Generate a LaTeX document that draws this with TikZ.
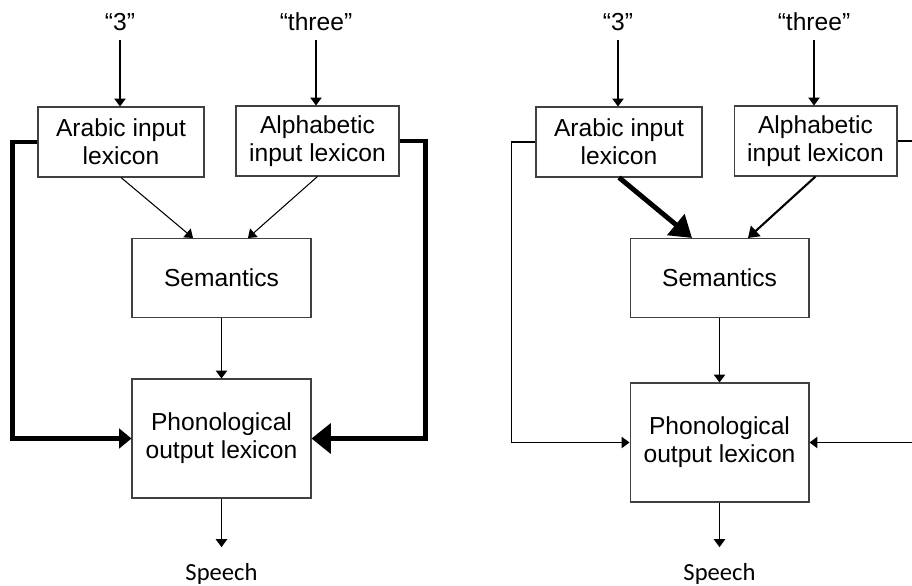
\documentclass[tikz,border=0pt]{standalone}
\usepackage{fontspec}
\setmainfont{Liberation Sans}
\newfontfamily\speechfont{Carlito}
\usetikzlibrary{arrows.meta}

\begin{document}
\begin{tikzpicture}[x=0.02cm, y=-0.02cm]
    \tikzset{
      stage/.style = {draw=black!75, line width=0.6pt, align=center, inner sep=0pt,
        minimum width=3.58cm, font=\fontsize{14pt}{16pt}\selectfont},
      stimulus/.style = {inner sep=0pt, outer sep=5.5pt, font=\fontsize{14pt}{16pt}\selectfont},
      response/.style = {inner sep=0pt, outer sep=9pt, font=\speechfont\fontsize{14pt}{16pt}\selectfont},
      route/.style = {line width=0.6pt, -{Triangle[width=6.5pt, length=4.5pt]}},
      strong route/.style = {line width=2.3pt, -{Triangle[width=11pt, length=7pt]}},
    }
    \useasboundingbox (0,0) rectangle (912,585);
    \clip (0,0) rectangle (912,585);

    \foreach \side/\dx/\dy in {left/0/0, right/498/4} {
        \node[stimulus, anchor=base] (digit \side) at (120+\dx,30) {“3”};
        \node[stimulus, anchor=base] (word \side) at (316+\dx,30) {“three”};
        \node[stage, minimum width=3.32cm, minimum height=1.4cm] (arabic \side) at (121+\dx,142) {Arabic input\\lexicon};
        \node[stage, minimum width=3.26cm, minimum height=1.4cm] (alphabetic \side) at (317.5+\dx,141) {Alphabetic\\input lexicon};
        \node[stage, minimum height=1.58cm] (semantics \side) at (221.5+\dx,278) {Semantics};
        \node[stage, minimum height=2.38cm] (phonology \side) at (221.5+\dx,438.5+\dy) {Phonological\\output lexicon};
        \node[response, anchor=base] (speech \side) at (221.5+\dx,580) {Speech};

        \draw[route] (digit \side.south) -- (digit \side.south |- arabic \side.north);
        \draw[route] (word \side.south) -- (word \side.south |- alphabetic \side.north);
        \draw[route] (semantics \side) -- (phonology \side);
        \draw[route] (phonology \side) -- (speech \side);
    }

    % left: strong direct routes to output
    \draw[route] (arabic left.south) -- ([xshift=-0.57cm]semantics left.north);
    \draw[route] (alphabetic left.south) -- ([xshift=0.53cm]semantics left.north);
    \draw[strong route] (arabic left.west) -- ++(-25,0) |- (phonology left.west);
    \draw[strong route, -{Triangle[width=17pt, length=11pt]}] (alphabetic left.east) -- ++(26,0) |- (phonology left.east);

    % right: strong route through semantics
    \draw[route] (arabic right.west) -- ++(-24,0) |- (phonology right.west);
    \draw[route] (alphabetic right.east) -- ++(30,0) |- (phonology right.east);
    \draw[line width=2.8pt, -{Triangle[width=15pt, length=12pt]}] (arabic right.south) -- ([xshift=-0.55cm]semantics right.north);
    \draw[line width=1.2pt, -{Triangle[width=8pt, length=6pt]}] (alphabetic right.south) -- ([xshift=0.57cm]semantics right.north);
\end{tikzpicture}
\end{document}
